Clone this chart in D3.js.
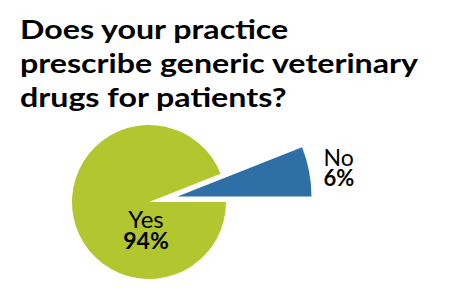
<!DOCTYPE html>
<html>
<head>
<meta charset="utf-8">
<script src="https://cdn.jsdelivr.net/npm/d3@7"></script>
<style>
  body { margin: 0; background: #fff; }
  text { font-family: Lato, "Open Sans", sans-serif; fill: #000; }
</style>
</head>
<body>
<svg id="chart"></svg>
<script>
// survey answers
const categories = ["Yes", "No"];
const values = [94, 6];
const titleLines = [
  "Does your practice",
  "prescribe generic veterinary",
  "drugs for patients?",
];

const width = 450;
const height = 293;
const colors = { Yes: "#b1c62f", No: "#2e6fa6" };

const svg = d3.select("#chart").attr("width", width).attr("height", height);

// title, stretched so the longest line spans the same width as the original
const title = svg
  .append("g")
  .selectAll("text")
  .data(titleLines)
  .join("text")
  .attr("x", 20)
  .attr("y", (d, i) => 39 + i * 34)
  .attr("font-size", 26)
  .attr("font-weight", 700)
  .text((d) => d);

const lens = title.nodes().map((n) => n.getComputedTextLength());
const stretch = 398 / d3.max(lens);
title
  .attr("textLength", (d, i) => lens[i] * stretch)
  .attr("lengthAdjust", "spacingAndGlyphs");

const data = categories.map((c, i) => ({ label: c, value: values[i] }));

// No slice sits just above 3 o'clock, Yes takes the rest
const pie = d3
  .pie()
  .sort(null)
  .value((d) => d.value)
  .startAngle(Math.PI / 2)
  .endAngle(Math.PI / 2 + 2 * Math.PI);

const arcs = pie(data);
const cx = 149;
const cy = 202;
const r = 77;
const bigR = 134; // exploded slice is drawn larger
const explode = 29;

const g = svg.append("g").attr("transform", `translate(${cx}, ${cy})`);

arcs.forEach((a) => {
  const isNo = a.data.label === "No";
  const outer = isNo ? bigR : r;
  const mid = (a.startAngle + a.endAngle) / 2;
  const dx = isNo ? Math.sin(mid) * explode : 0;
  const dy = isNo ? -Math.cos(mid) * explode : 0;

  const slice = g.append("g").attr("transform", `translate(${dx}, ${dy})`);
  slice
    .append("path")
    .attr("d", d3.arc().innerRadius(0).outerRadius(outer)(a))
    .attr("fill", colors[a.data.label]);

  // label + percentage in one text block
  const lx = isNo ? outer + 12 : -3;
  const ly = isNo ? -Math.cos(mid) * outer - 5 : 26;
  const label = slice
    .append("text")
    .attr("x", lx)
    .attr("y", ly)
    .attr("text-anchor", isNo ? "start" : "middle");
  label
    .append("tspan")
    .attr("font-size", isNo ? 23 : 24)
    .attr("font-weight", 400)
    .text(a.data.label);
  label
    .append("tspan")
    .attr("x", lx)
    .attr("dy", isNo ? 20 : 21)
    .attr("font-size", isNo ? 22 : 23)
    .attr("font-weight", 700)
    .text(a.data.value + "%");
});
</script>
</body>
</html>
